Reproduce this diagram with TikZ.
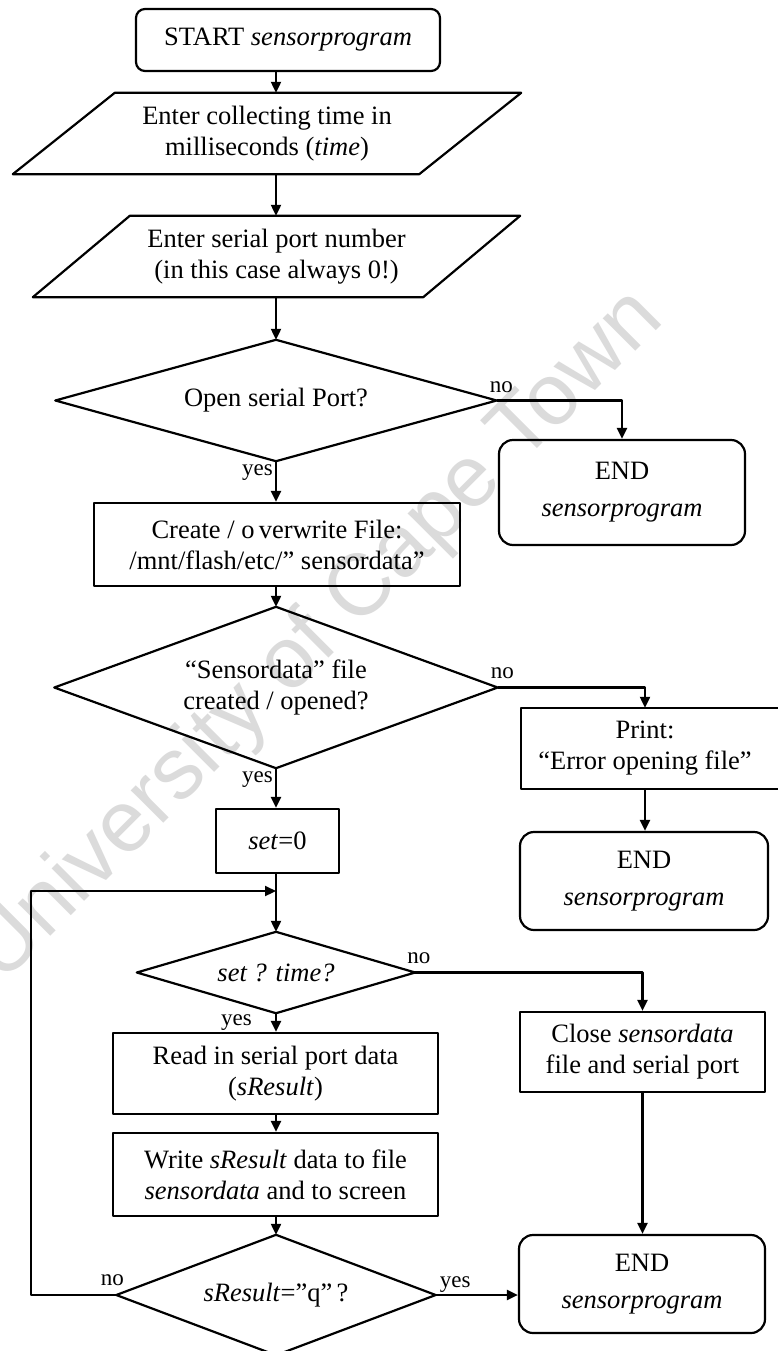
\documentclass[tikz,border=0pt]{standalone}
\usepackage{fontspec}
\setmainfont{Liberation Serif}
\newfontfamily\wmfont{Liberation Sans}
\usetikzlibrary{arrows.meta,calc}

\begin{document}
\begin{tikzpicture}[x=1pt,y=-1pt,
  ln/.style={line width=2.2pt,line join=round},
  arr/.style={ln,-{Triangle[length=11pt,width=10pt]}},
  txt/.style={inner sep=0pt,align=center,font=\fontsize{26.5}{31}\selectfont},
  blk/.style={txt,draw,ln},
  term/.style={blk,rounded corners=14pt},
  lbl/.style={inner sep=0pt,font=\fontsize{23}{23}\selectfont},
]
\useasboundingbox (0,0) rectangle (777,1351);
\fill[white] (0,0) rectangle (777,1351);

% faint watermark behind the chart
\node[text=black!14, font=\wmfont\fontsize{87}{87}\selectfont, rotate=45, inner sep=0pt]
  (wm) at (318,637) {University of Cape Town};

% main vertical axis
\coordinate (ax) at (276,0);

% start
\node[term, rounded corners=9pt, minimum width=304pt, minimum height=62pt]
  (start) at (288,40) {START \textit{sensorprogram}};

% input parallelograms
\node[txt, minimum width=406pt, minimum height=81pt] (p1) at (267,133.5)
  {Enter collecting time in\\milliseconds (\textit{time})};
\draw[ln] ($(p1.north west)+(51,0)$) -- ($(p1.north east)+(51,0)$)
  -- ($(p1.south east)+(-51,0)$) -- ($(p1.south west)+(-51,0)$) -- cycle;

\node[txt, minimum width=390pt, minimum height=81pt] (p2) at (276.5,256.5)
  {Enter serial port number\\(in this case always 0!)};
\draw[ln] ($(p2.north west)+(48.5,0)$) -- ($(p2.north east)+(48.5,0)$)
  -- ($(p2.south east)+(-48.5,0)$) -- ($(p2.south west)+(-48.5,0)$) -- cycle;

% first decision
\node[txt, minimum width=441pt, minimum height=121pt] (d1) at (276,400.5) {Open serial Port?};
\draw[ln] (d1.north) -- (d1.east) -- (d1.south) -- (d1.west) -- cycle;

\node[term, minimum width=246pt, minimum height=105pt] (end1) at (622,492.5)
  {END\\[6pt]\textit{sensorprogram}};

\node[blk, minimum width=366pt, minimum height=83pt] (cr) at (277,544.5)
  {Create / o\,verwrite File:\\/mnt/flash/etc/” sensordata”};

% second decision
\node[txt, minimum width=443pt, minimum height=161pt] (d2) at (276,687.5)
  {“Sensordata” file\\created / opened?};
\draw[ln] (d2.north) -- (d2.east) -- (d2.south) -- (d2.west) -- cycle;

\node[txt, minimum width=248pt, minimum height=81pt] (pr) at (645,748.5)
  {Print:\\“Error opening file”};
\draw[ln] ($(pr.north east)+(40,0)$) -- (pr.north west) -- (pr.south west)
  -- ($(pr.south east)+(40,0)$);

\node[term, minimum width=248pt, minimum height=98pt] (end2) at (644,881)
  {END\\[6pt]\textit{sensorprogram}};

\node[blk, minimum width=123pt, minimum height=64pt] (set) at (277.5,841)
  {\textit{set}=0};

\coordinate (join) at (276,891);

% loop condition
\node[txt, minimum width=278pt, minimum height=81pt] (d3) at (276,972.5)
  {\textit{set ? time?}};
\draw[ln] (d3.north) -- (d3.east) -- (d3.south) -- (d3.west) -- cycle;

\node[blk, minimum width=245pt, minimum height=80pt] (close) at (642.5,1052)
  {Close \textit{sensordata}\\file and serial port};

\node[term, minimum width=246pt, minimum height=98pt] (end3) at (642,1284)
  {END\\[6pt]\textit{sensorprogram}};

\node[blk, minimum width=325pt, minimum height=81pt] (read) at (275.5,1073.5)
  {Read in serial port data\\(\textit{sResult})};

\node[blk, minimum width=325pt, minimum height=83pt] (write) at (275.5,1174.5)
  {Write \textit{sResult} data to file\\\textit{sensordata} and to screen};

\node[txt, minimum width=319pt, minimum height=120pt] (d4) at (276,1295)
  {\textit{sResult}=”q”\,?};
\draw[ln] (d4.north) -- (d4.east) -- (d4.south) -- (d4.west) -- cycle;

% connectors
\draw[arr] (start.south -| ax) -- (p1.north -| ax);
\draw[arr] (p1.south -| ax) -- (p2.north -| ax);
\draw[arr] (p2.south -| ax) -- (d1.north);
\draw[arr] (d1.south) -- (cr.north -| d1.south);
\draw[arr] (d1.east) -| (end1.north);
\draw[arr] (cr.south -| ax) -- (d2.north);
\draw[arr] (d2.east) -| (pr.north);
\draw[arr] (pr.south) -- (end2.north -| pr.south);
\draw[arr] (d2.south) -- (set.north -| d2.south);
\draw[arr] (set.south -| ax) -- (d3.north);
\draw[arr] (d4.west) -- ++(-85,0) |- (join);
\draw[arr] (d3.east) -| (close.north);
\draw[arr] (close.south) -- (end3.north -| close.south);
\draw[arr] (d3.south) -- (read.north -| d3.south);
\draw[arr] (read.south -| ax) -- (write.north -| ax);
\draw[arr] (write.south -| ax) -- (d4.north);
\draw[arr] (d4.east) -- (d4.east -| end3.west);

% branch labels
\node[lbl, anchor=base west] (l1n) at ($(d1.east)+(-7,-8)$) {no};
\node[lbl, anchor=base east] (l1y) at ($(d1.south)+(-3,14)$) {yes};
\node[lbl, anchor=base west] (l2n) at ($(d2.east)+(-7,-9)$) {no};
\node[lbl, anchor=base east] (l2y) at ($(d2.south)+(-3,14)$) {yes};
\node[lbl, anchor=base west] (l3n) at ($(d3.east)+(-8,-9)$) {no};
\node[lbl, anchor=base east] (l3y) at ($(d3.south)+(-24,12)$) {yes};
\node[lbl, anchor=base] (l4n) at ($(d4.west)+(-4,-10)$) {no};
\node[lbl, anchor=base west] (l4y) at ($(d4.east)+(4,-8)$) {yes};
\end{tikzpicture}
\end{document}
